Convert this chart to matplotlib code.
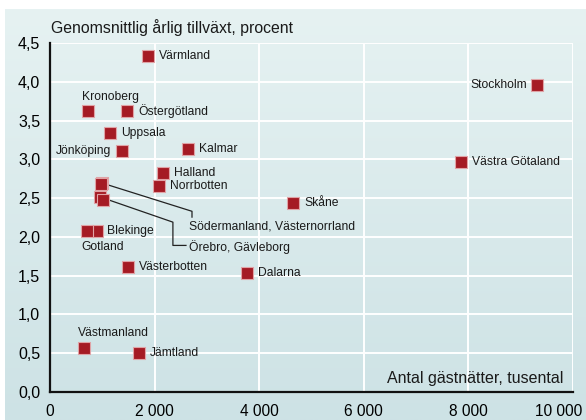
import matplotlib
matplotlib.use("Agg")
import matplotlib.pyplot as plt
import matplotlib.transforms as mtransforms
from matplotlib.colors import LinearSegmentedColormap
import numpy as np

plt.rcParams['font.family'] = ['Liberation Sans', 'DejaVu Sans']

# Data: regions, guest nights (thousands) and average annual growth (%)
regions = ["Värmland", "Kronoberg", "Östergötland", "Uppsala", "Jönköping", "Kalmar",
           "Halland", "Norrbotten", "Södermanland", "Västernorrland", "Örebro", "Gävleborg",
           "Skåne", "Stockholm", "Västra Götaland", "Blekinge", "Gotland", "Västerbotten",
           "Dalarna", "Västmanland", "Jämtland"]
guest_nights = [1870, 730, 1470, 1150, 1380, 2640,
                2160, 2080, 1000, 980, 960, 1010,
                4650, 9310, 7860, 900, 710, 1490,
                3770, 650, 1700]
growth = [4.33, 3.62, 3.62, 3.34, 3.11, 3.13,
          2.82, 2.65, 2.70, 2.68, 2.51, 2.47,
          2.44, 3.96, 2.96, 2.07, 2.07, 1.61,
          1.53, 0.57, 0.50]

x_ticks = [0, 2000, 4000, 6000, 8000, 10000]
y_ticks = [0.0, 0.5, 1.0, 1.5, 2.0, 2.5, 3.0, 3.5, 4.0, 4.5]

# label placement: (dx, dy) in points, horizontal alignment
right = ((8, 0), 'left')
placement = {
    "Kronoberg": ((16, 10), 'center'),
    "Jönköping": ((-8, 0), 'right'),
    "Stockholm": ((-7, 0), 'right'),
    "Gotland": ((-4, -11.5), 'left'),
    "Västmanland": ((-4, 11), 'left'),
    "Blekinge": ((7, 0), 'left'),
}
grouped = {"Södermanland", "Västernorrland", "Örebro", "Gävleborg"}
label_size = 8.7

fig = plt.figure(figsize=(5.86, 4.2), dpi=100)

# gradient panel behind the chart
bg = fig.add_axes([5 / 586, 0, 1 - 5 / 586, 1 - 9 / 420], zorder=-1)
grad = np.linspace(0, 1, 256).reshape(-1, 1)
cmap = LinearSegmentedColormap.from_list("bg", ["#e6f2f2", "#cde2e5"])
bg.imshow(grad, aspect='auto', cmap=cmap, extent=[0, 1, 1, 0])
bg.axis('off')

ax = fig.add_axes([50 / 586, 28 / 420, 523 / 586, 349 / 420])
ax.set_facecolor('none')
ax.set_xlim(0, 10000)
ax.set_ylim(0, 4.5)
ax.set_xticks(x_ticks)
ax.set_yticks(y_ticks)
ax.set_xticklabels([f"{v:,.0f}".replace(',', ' ') for v in x_ticks], fontsize=11.2)
ax.set_yticklabels([f"{v:.1f}".replace('.', ',') for v in y_ticks], fontsize=11.5)
ax.tick_params(length=0)
ax.tick_params(axis='x', pad=9)
ax.tick_params(axis='y', pad=7)
ax.grid(True, color='white', linewidth=1.4)
ax.set_axisbelow(True)
for s in ['top', 'right']:
    ax.spines[s].set_visible(False)
for s in ['left', 'bottom']:
    ax.spines[s].set_linewidth(1.6)
    ax.spines[s].set_color('#111111')

# keep the last x label inside the figure
last = ax.get_xticklabels()[-1]
last.set_ha('right')
last.set_transform(last.get_transform() + mtransforms.ScaledTranslation(9 / 100, 0, fig.dpi_scale_trans))

ax.plot(guest_nights, growth, linestyle='none', marker='s', markersize=8,
        markerfacecolor='#a51b24', markeredgecolor='#e0a3a6', markeredgewidth=0.8,
        clip_on=False, zorder=3)

for name, gx, gy in zip(regions, guest_nights, growth):
    if name in grouped:
        continue
    (dx, dy), ha = placement.get(name, right)
    ax.annotate(name, (gx, gy), xytext=(dx, dy), textcoords='offset points',
                ha=ha, va='center', fontsize=label_size, color='#1a1a1a')

# leader lines for overlapping points
ax.plot([1110, 2715, 2715], [2.67, 2.33, 2.255], color='#222222', linewidth=0.9, zorder=2)
ax.text(2660, 2.13, "Södermanland, Västernorrland", fontsize=label_size, va='center', color='#1a1a1a')
ax.plot([1150, 2350, 2350, 2600], [2.47, 2.19, 1.89, 1.89], color='#222222', linewidth=0.9, zorder=2)
ax.text(2660, 1.87, "Örebro, Gävleborg", fontsize=label_size, va='center', color='#1a1a1a')

fig.text(51 / 586, 1 - 28 / 420, "Genomsnittlig årlig tillväxt, procent", fontsize=11.4,
         va='center', ha='left', color='#1a1a1a')
ax.text(513 / 523, 0.04, "Antal gästnätter, tusental", transform=ax.transAxes, fontsize=11.5,
        ha='right', va='center', color='#1a1a1a')

fig.savefig("out.png", dpi=100)
